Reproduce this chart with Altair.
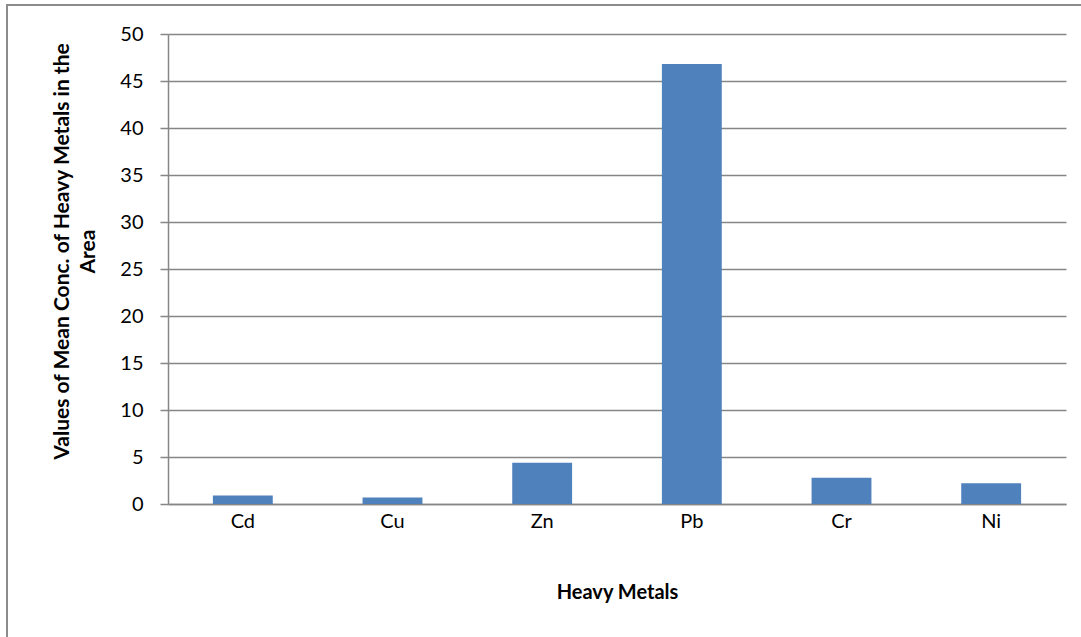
import altair as alt
import pandas as pd

# Mean concentration of each heavy metal in the study area
metals = ["Cd", "Cu", "Zn", "Pb", "Cr", "Ni"]
mean_conc = [0.9, 0.7, 4.4, 46.8, 2.8, 2.2]

df = pd.DataFrame({"metal": metals, "conc": mean_conc})

FONT = "Lato"
GRID = "#868686"
BAR = "#4F81BD"

bars = alt.Chart(df).mark_bar(color=BAR).encode(
    x=alt.X(
        "metal:N",
        sort=metals,
        scale=alt.Scale(paddingInner=0.6, paddingOuter=0.3),
        axis=alt.Axis(
            title="Heavy Metals",
            labelAngle=0,
            labelFontSize=20,
            labelPadding=7,
            ticks=False,
            domainColor=GRID,
            domainWidth=1.5,
            titleFontSize=20,
            titleFontWeight="bold",
            titleY=88,
            titleBaseline="middle",
        ),
    ),
    y=alt.Y(
        "conc:Q",
        scale=alt.Scale(domain=[0, 50]),
        axis=alt.Axis(
            title=["Values of Mean Conc. of Heavy Metals in the", "Area"],
            values=list(range(0, 51, 5)),
            labelFontSize=20,
            labelPadding=17,
            tickSize=8,
            tickColor=GRID,
            tickWidth=1.5,
            domainColor=GRID,
            domainWidth=1.5,
            gridColor=GRID,
            gridWidth=1.5,
            titleFontSize=21,
            titleFontWeight="bold",
            titleAngle=-90,
            titleX=-100,
            titleY=217,
            titleLineHeight=26,
            titleBaseline="alphabetic",
        ),
    ),
)

# outer frame around the whole figure
frame = alt.Chart(df).mark_rect(
    fill=None, stroke="#8c8c8c", strokeWidth=1.5
).encode(
    x=alt.value(-161),
    x2=alt.value(940),
    y=alt.value(-29),
    y2=alt.value(640),
)

chart = (
    alt.layer(bars, frame)
    .properties(
        width=898,
        height=470,
        autosize=alt.AutoSizeParams(type="none"),
        padding={"left": 168, "top": 34, "right": 15, "bottom": 133},
    )
    .configure(font=FONT)
    .configure_axis(labelColor="#000000", titleColor="#000000", labelFont=FONT, titleFont=FONT)
    .configure_view(stroke=None)
)

chart.save("out.html", embed_options={"renderer": "svg", "actions": False})
